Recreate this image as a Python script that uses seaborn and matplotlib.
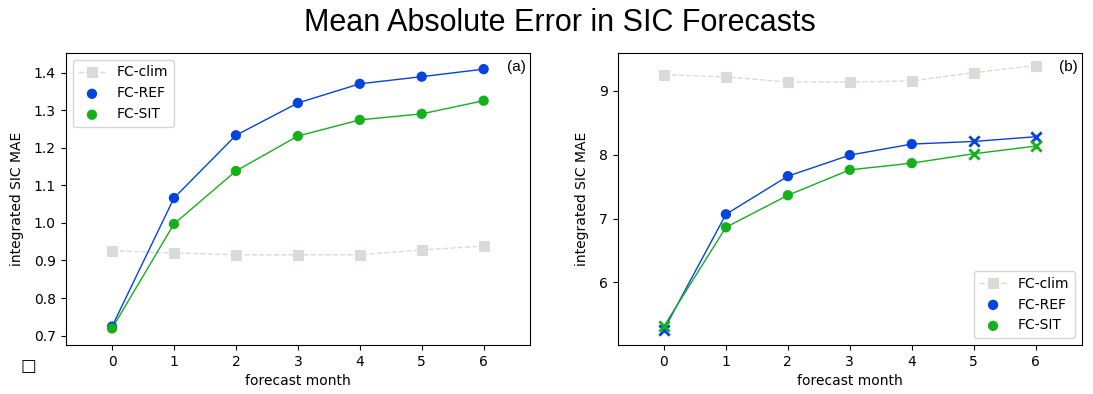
import matplotlib
matplotlib.use("Agg")
import matplotlib.pyplot as plt
import seaborn as sns
import pandas as pd
import numpy as np

months = [0, 1, 2, 3, 4, 5, 6]

# panel (a)
a_clim = [0.926, 0.920, 0.915, 0.915, 0.915, 0.928, 0.938]
a_ref = [0.724, 1.066, 1.233, 1.319, 1.370, 1.389, 1.409]
a_sit = [0.719, 0.997, 1.138, 1.231, 1.274, 1.290, 1.325]

# panel (b)
b_clim = [9.257, 9.220, 9.141, 9.141, 9.157, 9.288, 9.398]
b_ref = [5.262, 7.068, 7.665, 7.995, 8.168, 8.209, 8.283]
b_sit = [5.314, 6.864, 7.366, 7.764, 7.869, 8.016, 8.136]
b_cross_months = [0, 5, 6]

c_clim = "#d8dcd6"
c_ref = "#0343df"
c_sit = "#15b01a"

fig = plt.figure(figsize=(10.93, 3.94), dpi=100)
ax1 = fig.add_axes([0.060, 0.1244, 0.425, 0.7411])
ax2 = fig.add_axes([0.565, 0.1244, 0.425, 0.7411])


def panel(ax, clim, ref, sit, cross, tag, legloc):
    df = pd.DataFrame({"m": months, "clim": clim, "ref": ref, "sit": sit})
    sns.lineplot(data=df, x="m", y="clim", ax=ax, color=c_clim, lw=1,
                 linestyle="--", marker="s", markersize=7, markeredgecolor=c_clim,
                 label="FC-clim")
    sns.lineplot(data=df, x="m", y="ref", ax=ax, color=c_ref, lw=1)
    sns.lineplot(data=df, x="m", y="sit", ax=ax, color=c_sit, lw=1)
    dot = df[~df["m"].isin(cross)]
    crs = df[df["m"].isin(cross)]
    sns.scatterplot(data=dot, x="m", y="ref", ax=ax, color=c_ref, s=55,
                    edgecolor="none", label="FC-REF", zorder=3)
    sns.scatterplot(data=dot, x="m", y="sit", ax=ax, color=c_sit, s=55,
                    edgecolor="none", label="FC-SIT", zorder=3)
    if len(crs):
        sns.scatterplot(data=crs, x="m", y="ref", ax=ax, color=c_ref, s=55,
                        marker="x", linewidth=2, zorder=3)
        sns.scatterplot(data=crs, x="m", y="sit", ax=ax, color=c_sit, s=55,
                        marker="x", linewidth=2, zorder=3)
    ax.set_xlim(-0.75, 6.75)
    ax.set_xticks(months)
    ax.set_xlabel("forecast month", fontsize=10)
    ax.set_ylabel("integrated SIC MAE", fontsize=10, labelpad=7)
    ax.text(0.99, 0.975, tag, transform=ax.transAxes, ha="right", va="top",
            fontsize=11, family="Liberation Sans")
    ax.legend(loc=legloc, fontsize=10)


panel(ax1, a_clim, a_ref, a_sit, [], "(a)", "upper left")
ax1.set_ylim(0.675, 1.452)
panel(ax2, b_clim, b_ref, b_sit, b_cross_months, "(b)", "lower right")
ax2.set_ylim(5.02, 9.595)
ax2.set_yticks([6, 7, 8, 9])

fig.suptitle("Mean Absolute Error in SIC Forecasts", fontsize=22, x=0.512, y=0.98,
             family="Liberation Sans")
fig.text(28 / 1093, 1 - 366 / 394, "\u25a1", ha="center", va="center", fontsize=12)

fig.savefig("out.png", dpi=100)
